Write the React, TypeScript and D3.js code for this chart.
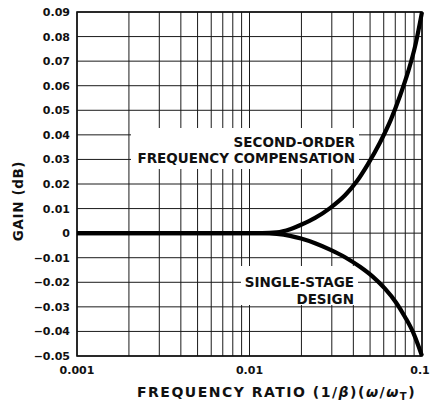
import React, { useEffect, useRef } from 'react';
import * as d3 from 'd3';

// second-order frequency compensation curve
const secondFreq = [0.001, 0.005, 0.01, 0.0118, 0.0144, 0.0172, 0.0199, 0.024, 0.0293, 0.0358, 0.042, 0.0486, 0.0571, 0.0661, 0.0746, 0.083, 0.0911, 0.1];
const secondGain = [0, 0, 0, 0, 0.0003, 0.0016, 0.0034, 0.0062, 0.0102, 0.0154, 0.0212, 0.0281, 0.0369, 0.0463, 0.0559, 0.0656, 0.0759, 0.09];

// single-stage design curve
const singleFreq = [0.001, 0.005, 0.01, 0.0118, 0.0144, 0.0172, 0.0199, 0.024, 0.0293, 0.0358, 0.0437, 0.052, 0.061, 0.0707, 0.0797, 0.0887, 0.0948, 0.1];
const singleGain = [0, 0, 0, 0, -0.0003, -0.0011, -0.0022, -0.0041, -0.0067, -0.0098, -0.0137, -0.0178, -0.0226, -0.0282, -0.0341, -0.0403, -0.0454, -0.05];

const yTicks = [0.09, 0.08, 0.07, 0.06, 0.05, 0.04, 0.03, 0.02, 0.01, 0, -0.01, -0.02, -0.03, -0.04, -0.05];
const xTicks = [0.001, 0.01, 0.1];
const xTickLabels = ['0.001', '0.01', '0.1'];

const width = 430;
const height = 407;
const left = 77;
const right = 422;
const top = 12;
const bottom = 356;
const font = '"DejaVu Sans", sans-serif';

export default function App() {
    const svgRef = useRef<SVGSVGElement>(null);

    useEffect(() => {
        const svg = d3.select(svgRef.current);
        svg.selectAll('*').remove();

        const x = d3.scaleLog().domain([0.001, 0.1]).range([left, right]);
        const y = d3.scaleLinear().domain([-0.05, 0.09]).range([bottom, top]);

        // log grid: 1..9 in every decade
        const vLines: number[] = [];
        [0.001, 0.01].forEach(d => {
            for (let k = 1; k <= 9; k++) vLines.push(d * k);
        });
        vLines.push(0.1);

        const grid = svg.append('g').attr('stroke', '#1a1a1a').attr('stroke-width', 1);
        grid.selectAll('line.v')
            .data(vLines)
            .join('line')
            .attr('class', 'v')
            .attr('x1', d => x(d)).attr('x2', d => x(d))
            .attr('y1', top).attr('y2', bottom);
        grid.selectAll('line.h')
            .data(yTicks)
            .join('line')
            .attr('class', 'h')
            .attr('x1', left).attr('x2', right)
            .attr('y1', d => y(d)).attr('y2', d => y(d));

        // frame
        svg.append('rect')
            .attr('x', left).attr('y', top)
            .attr('width', right - left).attr('height', bottom - top)
            .attr('fill', 'none').attr('stroke', '#111').attr('stroke-width', 1.6);

        // white boxes behind the curve labels
        svg.append('rect').attr('x', 131).attr('y', 128).attr('width', 228).attr('height', 41).attr('fill', '#fff');
        svg.append('rect').attr('x', 241).attr('y', 266).attr('width', 117).attr('height', 39).attr('fill', '#fff');

        const labels = [
            { t: 'SECOND-ORDER', x: 355, y: 147 },
            { t: 'FREQUENCY COMPENSATION', x: 355, y: 163 },
            { t: 'SINGLE-STAGE', x: 354, y: 287 },
            { t: 'DESIGN', x: 354, y: 304 },
        ];
        svg.append('g')
            .selectAll('text')
            .data(labels)
            .join('text')
            .attr('x', d => d.x).attr('y', d => d.y)
            .attr('text-anchor', 'end')
            .attr('font-family', font).attr('font-weight', 'bold').attr('font-size', 13.5)
            .attr('fill', '#111')
            .text(d => d.t);

        // curves
        const line = d3.line<[number, number]>()
            .x(d => x(d[0]))
            .y(d => y(d[1]))
            .curve(d3.curveMonotoneX);

        const series = [
            secondFreq.map((f, i) => [f, secondGain[i]] as [number, number]),
            singleFreq.map((f, i) => [f, singleGain[i]] as [number, number]),
        ];
        svg.append('g')
            .selectAll('path')
            .data(series)
            .join('path')
            .attr('d', d => line(d))
            .attr('fill', 'none')
            .attr('stroke', '#000')
            .attr('stroke-width', 4.2)
            .attr('stroke-linecap', 'butt');

        // y tick labels
        svg.append('g')
            .selectAll('text')
            .data(yTicks)
            .join('text')
            .attr('x', 70)
            .attr('y', d => y(d) + 4)
            .attr('text-anchor', 'end')
            .attr('font-family', font).attr('font-weight', 'bold').attr('font-size', 11)
            .attr('fill', '#111')
            .text(d => d === 0 ? '0' : (d < 0 ? '\u2212' : '') + Math.abs(d).toFixed(2));

        // x tick labels
        svg.append('g')
            .selectAll('text')
            .data(xTicks)
            .join('text')
            .attr('x', d => Math.min(x(d), width - 10))
            .attr('y', 374)
            .attr('text-anchor', 'middle')
            .attr('font-family', font).attr('font-weight', 'bold').attr('font-size', 11)
            .attr('fill', '#111')
            .text((d, i) => xTickLabels[i]);

        // axis titles
        const xt = svg.append('text')
            .attr('x', 137).attr('y', 397)
            .attr('font-family', font).attr('font-weight', 'bold').attr('font-size', 14)
            .attr('letter-spacing', 1.5)
            .attr('fill', '#111');
        xt.append('tspan').text('FREQUENCY RATIO (1/');
        xt.append('tspan').attr('font-style', 'italic').text('β');
        xt.append('tspan').text(')(');
        xt.append('tspan').attr('font-style', 'italic').text('ω');
        xt.append('tspan').text('/');
        xt.append('tspan').attr('font-style', 'italic').text('ω');
        xt.append('tspan').attr('font-size', 10).attr('dy', 3).text('T');
        xt.append('tspan').attr('dy', -3).text(')');

        svg.append('text')
            .attr('transform', 'translate(23, 201) rotate(-90)')
            .attr('text-anchor', 'middle')
            .attr('font-family', font).attr('font-weight', 'bold').attr('font-size', 13.5)
            .attr('letter-spacing', 0.6)
            .attr('fill', '#111')
            .text('GAIN (dB)');
    }, []);

    return (
        <svg ref={svgRef} width={width} height={height}
            style={{ position: 'absolute', left: 0, top: 0, background: '#fff' }} />
    );
}
